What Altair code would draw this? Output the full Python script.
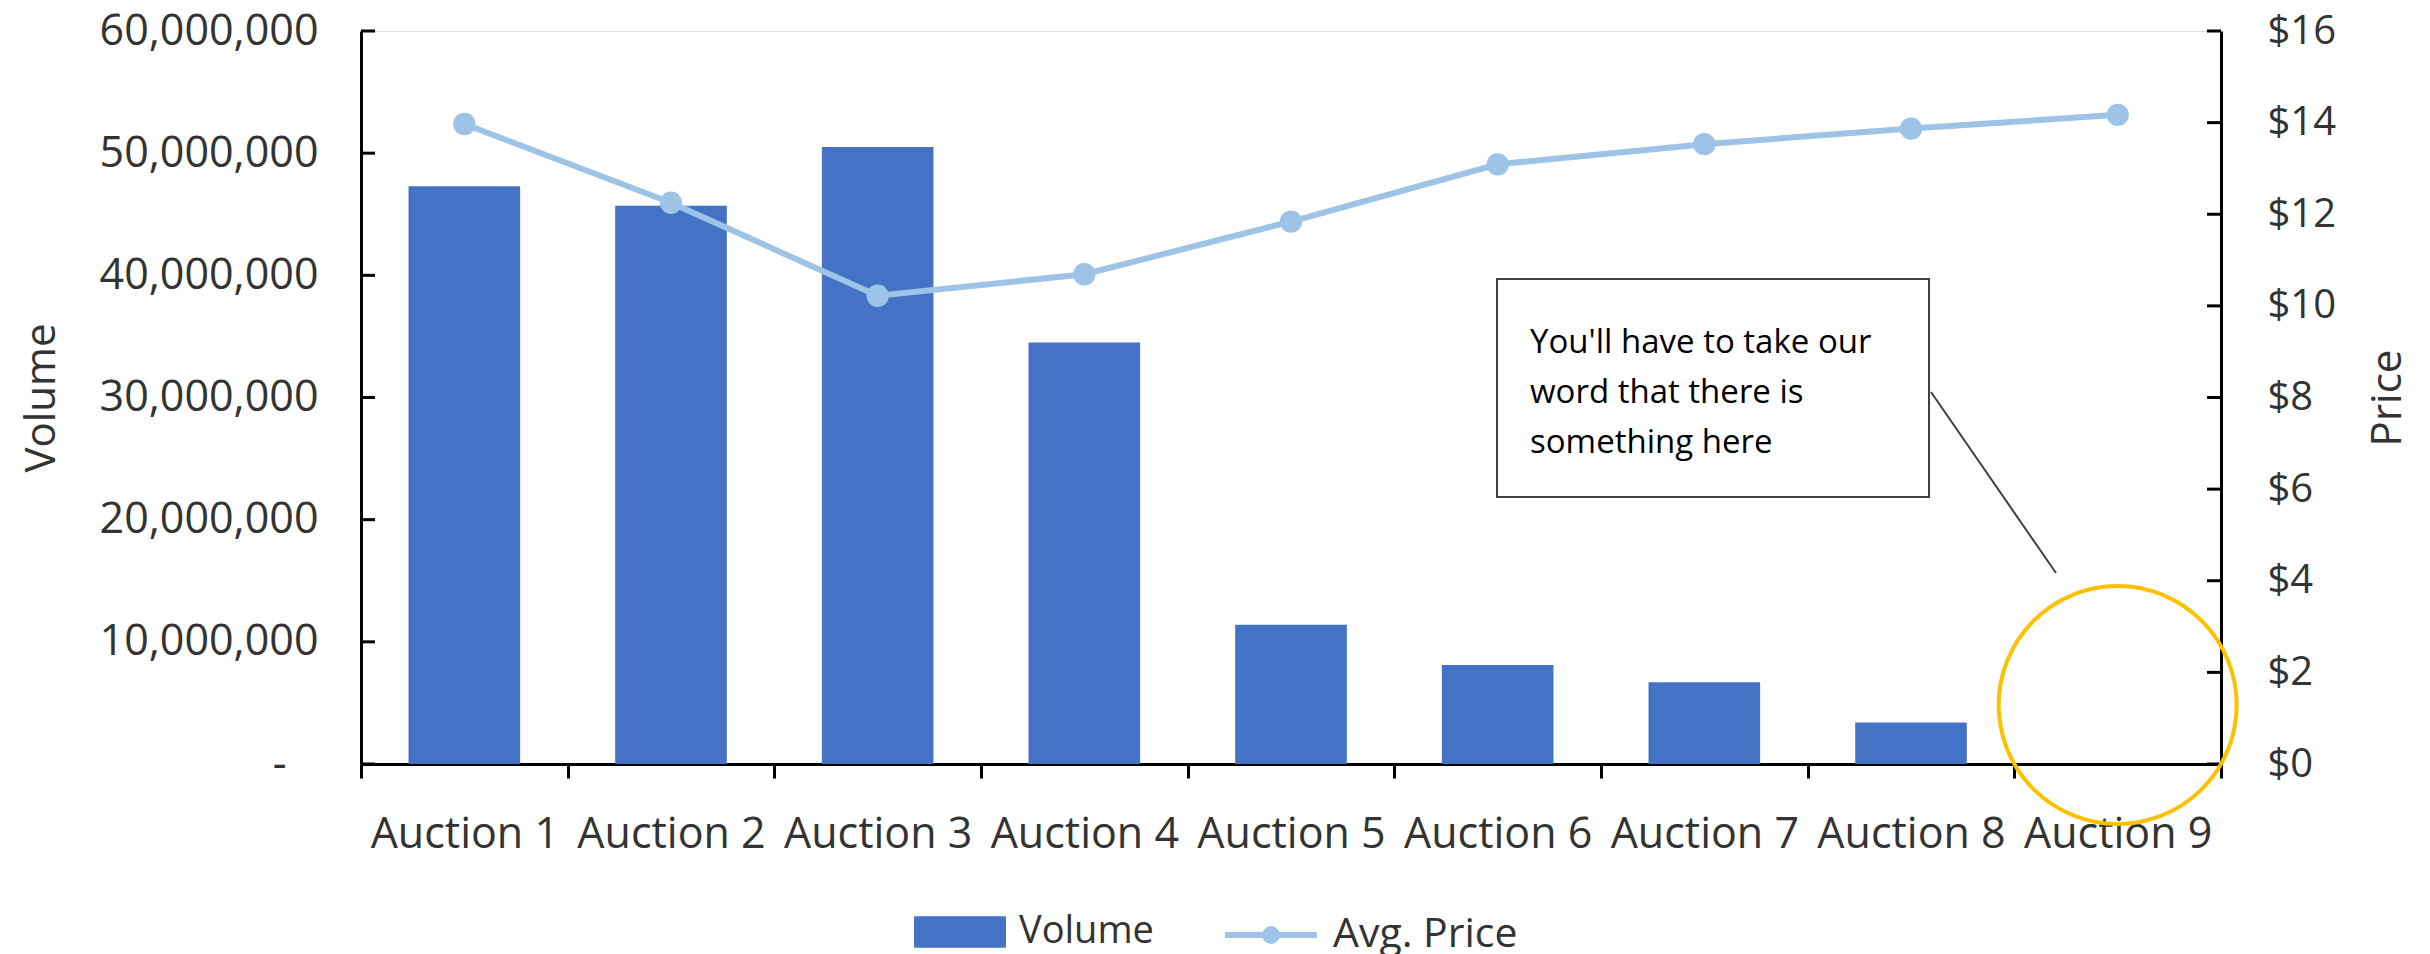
import altair as alt
import pandas as pd

# ---- data ----
categories = ["Auction 1", "Auction 2", "Auction 3", "Auction 4", "Auction 5",
              "Auction 6", "Auction 7", "Auction 8", "Auction 9"]
volume = [47300000, 45700000, 50500000, 34500000, 11400000, 8100000, 6700000, 3400000, 0]
avg_price = [13.97, 12.25, 10.22, 10.69, 11.84, 13.09, 13.53, 13.87, 14.17]
volume_ticks = [0, 10000000, 20000000, 30000000, 40000000, 50000000, 60000000]
price_ticks = [0, 2, 4, 6, 8, 10, 12, 14, 16]
note_text = "You'll have to take our\nword that there is\nsomething here"
highlight_category = ["Auction 9"]

FONT = "Open Sans"
TXT = "#333333"
W, H = 1860, 733

df = pd.DataFrame({"cat": categories, "volume": volume, "price": avg_price})
vt = pd.DataFrame({"v": volume_ticks})
pt = pd.DataFrame({"p": price_ticks})

xscale = alt.Scale(domain=categories, paddingInner=0, paddingOuter=0)
xenc = alt.X("cat:N", sort=categories, scale=xscale,
             axis=alt.Axis(title=None, labelAngle=0, tickBand="extent", tickSize=14,
                           tickWidth=3, tickColor="black", domainColor="black",
                           domainWidth=3, labelFontSize=43, labelFont=FONT,
                           labelColor=TXT, labelPadding=35, labelLimit=0, grid=False))

vol_scale = alt.Scale(domain=[0, 60000000], nice=False)
price_scale = alt.Scale(domain=[0, 16], nice=False)

bars = alt.Chart(df).transform_calculate(s="'Volume'").mark_bar(
    width=alt.RelativeBandSize(0.54)
).encode(
    x=xenc,
    y=alt.Y("volume:Q", scale=vol_scale,
            axis=alt.Axis(title="Volume", orient="left", values=volume_ticks, ticks=False,
                          labelExpr="datum.value == 0 ? '-' : format(datum.value, ',')",
                          labelFontSize=43, labelFont=FONT, labelColor=TXT,
                          labelPadding={"condition": {"test": "datum.value == 0", "value": 75},
                                        "value": 43},
                          labelLimit=0, domainColor="black", domainWidth=3,
                          grid=False, titleFontSize=42, titleFont=FONT,
                          titleFontWeight="normal", titleColor=TXT,
                          titleAngle=-90, titleX=-320, titleY=H / 2,
                          titleAlign="center", titleBaseline="middle")),
    color=alt.Color("s:N", scale=alt.Scale(domain=["Volume"], range=["#4472C4"]),
                    legend=alt.Legend(title=None, orient="none", legendX=553, legendY=855,
                                      symbolType="M-1,-0.34H1V0.34H-1Z", symbolSize=8464,
                                      labelFontSize=38, labelFont=FONT, labelColor=TXT,
                                      labelOffset=13, labelLimit=0, symbolStrokeWidth=0)),
)

vticks = alt.Chart(vt).mark_rule(color="black", strokeWidth=3).encode(
    y=alt.Y("v:Q", scale=vol_scale, axis=None),
    x=alt.value(0), x2=alt.value(14),
)

line = alt.Chart(df).transform_calculate(s2="'Avg. Price'").mark_line(
    strokeWidth=6,
    point=alt.OverlayMarkDef(filled=True, size=500, color="#9DC3E6"),
).encode(
    x=alt.X("cat:N", sort=categories, scale=xscale),
    y=alt.Y("price:Q", scale=price_scale,
            axis=alt.Axis(title="Price", orient="right", values=price_ticks, ticks=False,
                          format="$.0f", labelFontSize=40, labelFont=FONT, labelColor=TXT,
                          labelPadding=46, labelLimit=0, domainColor="black", domainWidth=3,
                          grid=False, titleFontSize=42, titleFont=FONT,
                          titleFontWeight="normal", titleColor=TXT, titleAngle=-90,
                          titleX=166, titleY=H / 2, titleAlign="center",
                          titleBaseline="middle")),
    color=alt.Color("s2:N", scale=alt.Scale(domain=["Avg. Price"], range=["#9DC3E6"]),
                    legend=alt.Legend(title=None, orient="none", legendX=861, legendY=855,
                                      symbolType="M-1,0H1M-0.13,0A0.13,0.13 0 1,0 0.13,0A0.13,0.13 0 1,0 -0.13,0M-0.065,0A0.065,0.065 0 1,0 0.065,0A0.065,0.065 0 1,0 -0.065,0",
                                      symbolSize=8464, symbolStrokeWidth=6,
                                      labelFontSize=41, labelFont=FONT, labelColor=TXT,
                                      labelOffset=13, labelLimit=0)),
)

pticks = alt.Chart(pt).mark_rule(color="black", strokeWidth=3).encode(
    y=alt.Y("p:Q", scale=price_scale, axis=None),
    x=alt.value(W - 14), x2=alt.value(W),
)

one = pd.DataFrame({"t": [note_text]})
box = alt.Chart(one).mark_rect(fill="white", stroke="#404040", strokeWidth=2).encode(
    x=alt.value(1136), x2=alt.value(1568), y=alt.value(248), y2=alt.value(466))
note = alt.Chart(one).mark_text(align="left", baseline="top", fontSize=33, font=FONT,
                                color="black", lineBreak="\n", lineHeight=50).encode(
    text="t:N", x=alt.value(1169), y=alt.value(296))
pointer = alt.Chart(one).mark_rule(color="#404040", strokeWidth=2).encode(
    x=alt.value(1570), x2=alt.value(1695), y=alt.value(361), y2=alt.value(542))

hl = pd.DataFrame({"cat": highlight_category})
circle = alt.Chart(hl).mark_point(shape="circle", filled=False, size=238 * 238,
                                  stroke="#FFC000", strokeWidth=4, opacity=1).encode(
    x=alt.X("cat:N", sort=categories, scale=xscale), y=alt.value(674))

chart = alt.layer(
    bars, vticks, line, pticks, box, note, pointer, circle,
).resolve_scale(y="independent", color="independent").resolve_legend(
    color="independent"
).properties(
    width=W, height=H, autosize="none",
    padding={"left": 353, "top": 23, "right": 195, "bottom": 190},
).configure_view(strokeWidth=0).configure(font=FONT)

chart.save("out.html", embed_options={"renderer": "svg", "actions": False})
